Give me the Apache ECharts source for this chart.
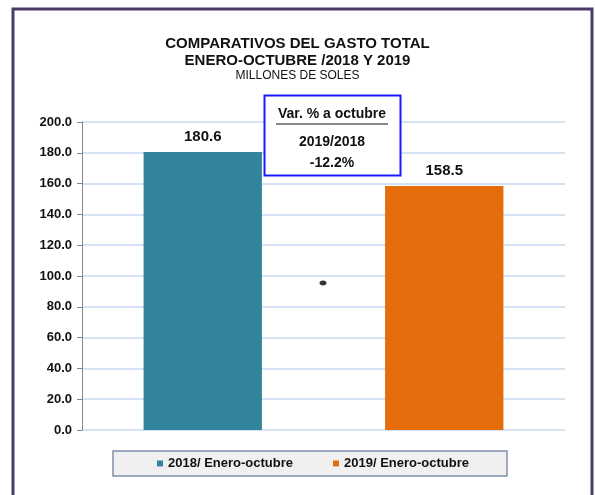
<!DOCTYPE html>
<html><head><meta charset="utf-8">
<script src="https://cdn.jsdelivr.net/npm/echarts@6/dist/echarts.min.js"></script>
<style>html,body{margin:0;padding:0;background:#fff}#c{width:595px;height:495px}</style>
</head><body><div id="c"></div>
<script>
var categories = ['2018/ Enero-octubre', '2019/ Enero-octubre'];
var values = [180.6, 158.5];
var colors = ['#31849b', '#e46c0a'];
var yTicks = [0, 20, 40, 60, 80, 100, 120, 140, 160, 180, 200];
var titleLines = ['COMPARATIVOS DEL GASTO TOTAL', 'ENERO-OCTUBRE /2018 Y 2019'];
var subtitle = 'MILLONES DE SOLES';
var noteLines = ['Var. % a octubre', '2019/2018', '-12.2%'];

var chart = echarts.init(document.getElementById('c'), null, {renderer: 'canvas'});
var F = 'Liberation Sans, Arial, sans-serif';
var series = categories.map(function (name, i) {
  var d = categories.map(function (_, j) { return j === i ? values[i] : '-'; });
  return {
    name: name, type: 'bar', stack: 'all', data: d, barWidth: '49%',
    itemStyle: {color: colors[i]},
    label: {show: true, position: 'top', distance: 8, formatter: function (p) { return p.value.toFixed(1); },
      color: '#111', fontFamily: F, fontWeight: 'bold', fontSize: 15}
  };
});
chart.setOption({
  animation: false,
  backgroundColor: '#fff',
  grid: {left: 82, right: 30, top: 122, bottom: 65},
  legend: {
    data: categories.map(function (n, i) { return {name: n, itemStyle: {color: colors[i]}}; }),
    bottom: 19, left: 113,
    backgroundColor: '#f0f0f0', borderColor: '#7f8faa', borderWidth: 1.5,
    padding: [6, 38, 6, 44], itemGap: 40,
    itemWidth: 6, itemHeight: 6, icon: 'rect',
    textStyle: {fontFamily: F, fontWeight: 'bold', fontSize: 13, color: '#111'}
  },
  xAxis: {type: 'category', data: categories, axisLine: {show: false}, axisTick: {show: false}, axisLabel: {show: false}},
  yAxis: {
    type: 'value', min: yTicks[0], max: yTicks[yTicks.length - 1], interval: 20,
    axisLine: {show: true, lineStyle: {color: '#868686'}},
    axisTick: {show: true, length: 5, lineStyle: {color: '#868686'}},
    axisLabel: {formatter: function (v) { return v.toFixed(1); }, fontFamily: F, fontWeight: 'bold', fontSize: 13, color: '#111', margin: 10},
    splitLine: {lineStyle: {color: '#c6d9f1', width: 1.5}}
  },
  series: series,
  graphic: [
    {type: 'rect', shape: {x: 13, y: 9, width: 579, height: 500}, style: {fill: 'none', stroke: '#4b3b68', lineWidth: 3}, z: 100},
    {type: 'text', left: 'center', top: 35, style: {text: titleLines.join('\n'), fontFamily: F, fontWeight: 'bold', fontSize: 15, lineHeight: 17, fill: '#111', textAlign: 'center'}, z: 100},
    {type: 'text', left: 'center', top: 70, style: {text: subtitle, fontFamily: F, fontSize: 12, fill: '#111', textAlign: 'center'}, z: 100},
    {type: 'rect', shape: {x: 264.5, y: 95.5, width: 136, height: 80}, style: {fill: '#fff', stroke: '#1a1aff', lineWidth: 2}, z: 100},
    {type: 'text', x: 332, y: 107, style: {text: noteLines[0], fontFamily: F, fontWeight: 'bold', fontSize: 14, fill: '#111', textAlign: 'center'}, z: 101},
    {type: 'line', shape: {x1: 276, y1: 124, x2: 388, y2: 124}, style: {stroke: '#111', lineWidth: 1}, z: 101},
    {type: 'text', x: 332, y: 135, style: {text: noteLines[1], fontFamily: F, fontWeight: 'bold', fontSize: 14, fill: '#111', textAlign: 'center'}, z: 101},
    {type: 'text', x: 332, y: 156, style: {text: noteLines[2], fontFamily: F, fontWeight: 'bold', fontSize: 14, fill: '#111', textAlign: 'center'}, z: 101},
    {type: 'ellipse', shape: {cx: 323, cy: 283, rx: 3.5, ry: 2.5}, style: {fill: '#333'}, z: 100}
  ]
});
</script></body></html>
